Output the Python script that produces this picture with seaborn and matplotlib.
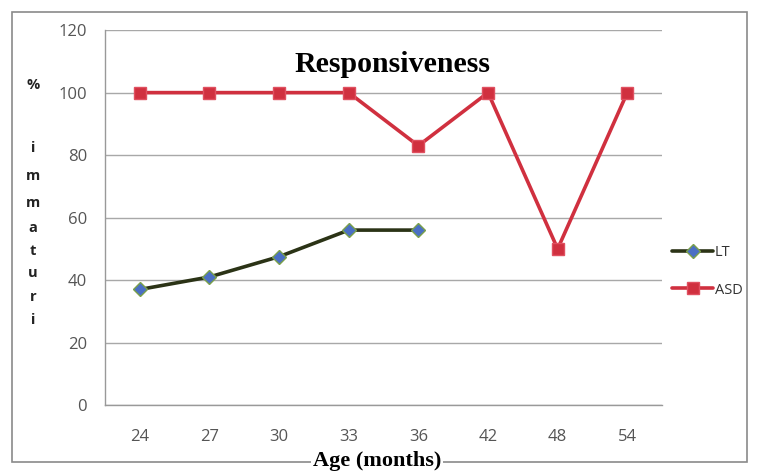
import matplotlib
matplotlib.use("Agg")
import matplotlib.pyplot as plt
import seaborn as sns
import pandas as pd
import numpy as np
from matplotlib.patches import Rectangle

ages = ["24", "27", "30", "33", "36", "42", "48", "54"]
lt_ages = ["24", "27", "30", "33", "36"]
lt_values = [37, 41, 47.5, 56, 56]
asd_values = [100, 100, 100, 100, 83, 100, 50, 100]
y_ticks = [0, 20, 40, 60, 80, 100, 120]

df = pd.concat([
    pd.DataFrame({"age": lt_ages, "pct": lt_values, "group": "LT"}),
    pd.DataFrame({"age": ages, "pct": asd_values, "group": "ASD"}),
], ignore_index=True)
df["age"] = pd.Categorical(df["age"], categories=ages, ordered=True)
df["xpos"] = df["age"].cat.codes

sns.set_theme(style="white")
plt.rcParams["font.family"] = ["Open Sans", "DejaVu Sans"]

fig = plt.figure(figsize=(7.58, 4.71), dpi=100)
ax = fig.add_axes([0.1385, 0.140, 0.735, 0.796])

palette = {"LT": "#2b3316", "ASD": "#d0303f"}
sns.lineplot(data=df[df.group == "LT"], x="xpos", y="pct", ax=ax,
             color=palette["LT"], linewidth=2.6, marker="D", markersize=7,
             markerfacecolor="#4a6fc4", markeredgecolor="#7aa04a",
             markeredgewidth=1.0, label="LT", zorder=4)
sns.lineplot(data=df[df.group == "ASD"], x="xpos", y="pct", ax=ax,
             color=palette["ASD"], linewidth=2.6, marker="s", markersize=9,
             markerfacecolor="#d0303f", markeredgecolor="#e05060",
             markeredgewidth=1.0, label="ASD", zorder=3)

ax.set_xlim(-0.5, len(ages) - 0.5)
ax.set_ylim(0, 120)
ax.set_xticks(range(len(ages)))
ax.set_xticklabels(ages)
ax.set_xticks(np.arange(-0.5, len(ages), 1.0), minor=True)
ax.set_yticks(y_ticks)
ax.tick_params(axis="x", which="major", length=0, pad=17, labelsize=12, labelcolor="#555555")
ax.tick_params(axis="x", which="minor", length=4, color="#999999", width=1, direction="out")
ax.tick_params(axis="y", which="major", length=5, color="#999999", width=1, pad=8,
               labelsize=12, labelcolor="#555555")
ax.yaxis.grid(True, color="#a8a8a8", linewidth=1)
ax.set_axisbelow(True)
for s in ["top", "right"]:
    ax.spines[s].set_visible(False)
for s in ["left", "bottom"]:
    ax.spines[s].set_color("#999999")
    ax.spines[s].set_linewidth(1)
ax.set_xlabel("")
ax.set_ylabel("")

fig.text(392 / 758, 1 - 72 / 471, "Responsiveness", ha="center", va="baseline",
         fontsize=21.5, fontweight="bold", family=["Liberation Serif", "DejaVu Serif"],
         color="black")

leg = ax.legend(loc="center left", bbox_to_anchor=(0.995, 0.357), frameon=False,
                fontsize=10.5, handlelength=2.8, handletextpad=0.1, labelspacing=1.55,
                labelcolor="#333333")

# vertical stacked y label
letters = ["%", "i", "m", "m", "a", "t", "u", "r", "i"]
ys = [85, 148, 176, 203, 228, 251, 273, 297, 320]
for ch, yy in zip(letters, ys):
    fig.text(33 / 758, 1 - yy / 471, ch, ha="center", va="center",
             fontsize=10.5, fontweight="bold", color="#222222")

# chart frame
fig.patches.append(Rectangle((12 / 758, 1 - 462 / 471), (747 - 12) / 758, (462 - 12) / 471,
                             transform=fig.transFigure, fill=False, edgecolor="#8a8a8a",
                             linewidth=1.2))
fig.text(377 / 758, 1 - 466 / 471, "Age (months)", ha="center", va="baseline",
         fontsize=16, fontweight="bold", family=["Liberation Serif", "DejaVu Serif"],
         color="black", bbox=dict(facecolor="white", edgecolor="none", pad=1.0))

fig.savefig("out.png", dpi=100)
